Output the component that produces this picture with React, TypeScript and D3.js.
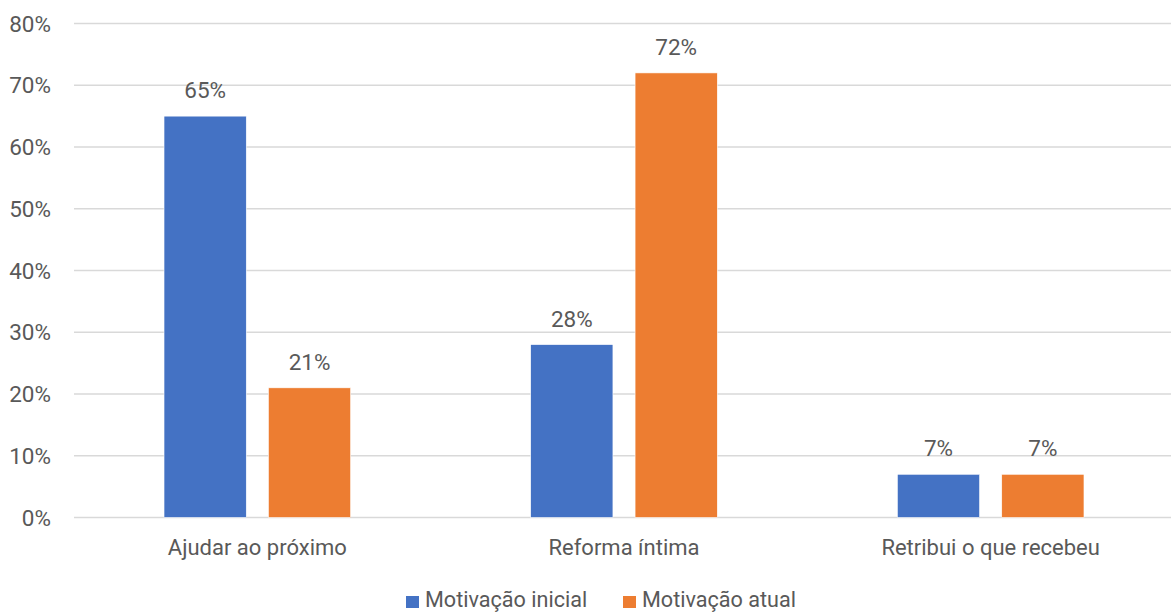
import React from "react";
import * as d3 from "d3";

const categories = ["Ajudar ao próximo", "Reforma íntima", "Retribui o que recebeu"];
const seriesNames = ["Motivação inicial", "Motivação atual"];
const inicialValues = [65, 28, 7];
const atualValues = [21, 72, 7];
const yTicks = [0, 10, 20, 30, 40, 50, 60, 70, 80];
const colors = ["#4472C4", "#ED7D31"];

const W = 1171;
const H = 612;
const FONT = "Roboto, 'Open Sans', sans-serif";
const TEXT = "#595959";

export default function App() {
  const plotLeft = 74;
  const plotRight = 1174;
  const plotTop = 23.5;
  const plotBottom = 517.5;

  const x0 = d3.scaleBand<string>().domain(categories).range([plotLeft, plotRight]).paddingInner(0).paddingOuter(0);
  const groupWidth = x0.step() * 0.509;
  const x1 = d3.scaleBand<string>().domain(seriesNames).range([0, groupWidth]).paddingInner(0.212).paddingOuter(0);
  const y = d3.scaleLinear().domain([0, 80]).range([plotBottom, plotTop]);

  const series = [inicialValues, atualValues];

  return (
    <svg width={W} height={H} style={{ position: "absolute", left: 0, top: 0, background: "#fff" }} fontFamily={FONT}>
      {yTicks.map((t) => (
        <g key={t}>
          <line x1={plotLeft} x2={W} y1={y(t)} y2={y(t)} stroke="#d9d9d9" strokeWidth={1.5} />
          <text x={51} y={y(t)} dy="0.36em" textAnchor="end" fontSize={22.5} fill={TEXT}>
            {t}%
          </text>
        </g>
      ))}
      {categories.map((c, ci) => {
        const gx = (x0(c) as number) + (x0.bandwidth() - groupWidth) / 2;
        return (
          <g key={c}>
            {seriesNames.map((s, si) => {
              const v = series[si][ci];
              const bx = gx + (x1(s) as number);
              return (
                <g key={s}>
                  <rect x={bx} y={y(v)} width={x1.bandwidth()} height={y(0) - y(v)} fill={colors[si]} stroke="#fff" strokeWidth={0.6} />
                  <text x={bx + x1.bandwidth() / 2} y={y(v) - 18} textAnchor="middle" fontSize={22.5} fill={TEXT}>
                    {v}%
                  </text>
                </g>
              );
            })}
            <text x={(x0(c) as number) + x0.bandwidth() / 2} y={555} textAnchor="middle" fontSize={22} fill={TEXT}>
              {c}
            </text>
          </g>
        );
      })}
      <g>
        <rect x={406} y={596} width={13} height={12} fill={colors[0]} />
        <text x={425} y={607} fontSize={21.6} fill={TEXT}>{seriesNames[0]}</text>
        <rect x={623} y={596} width={13} height={12} fill={colors[1]} />
        <text x={642} y={607} fontSize={21.6} fill={TEXT}>{seriesNames[1]}</text>
      </g>
    </svg>
  );
}
